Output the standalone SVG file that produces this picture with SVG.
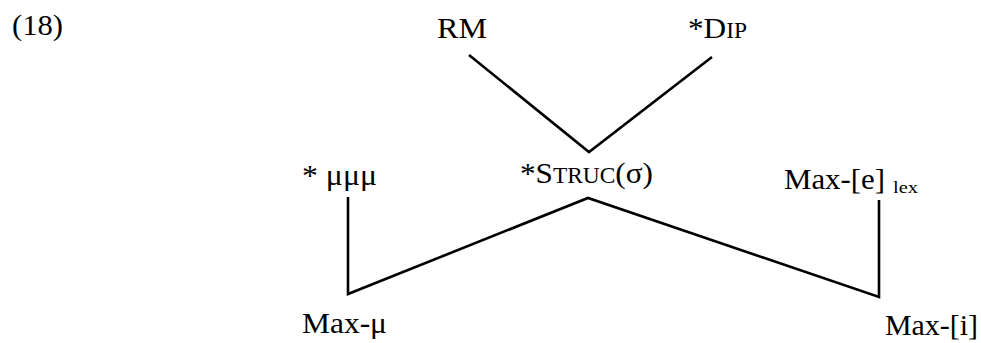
<svg xmlns="http://www.w3.org/2000/svg" width="981" height="343" viewBox="0 0 981 343">
<style>
text{font-family:"Liberation Serif","Times New Roman",serif;font-size:30px;fill:#000}
.sc{font-size:22.5px}
.sub{font-size:17px}
.ln{stroke:#000;stroke-width:2.6;fill:none;stroke-linejoin:miter}
</style>
<rect width="981" height="343" fill="#fff"/>
<text x="12" y="35" textLength="51" lengthAdjust="spacingAndGlyphs">(18)</text>
<g id="RM"><text x="437" y="38" textLength="50" lengthAdjust="spacingAndGlyphs">RM</text></g>
<g id="DIP"><text x="688" y="38" textLength="59" lengthAdjust="spacingAndGlyphs">*D<tspan class="sc">IP</tspan></text></g>
<g id="mmm"><text x="302" y="185" textLength="75" lengthAdjust="spacingAndGlyphs">* μμμ</text></g>
<g id="STRUC"><text x="520" y="183" textLength="133" lengthAdjust="spacingAndGlyphs">*S<tspan class="sc">TRUC</tspan>(σ)</text></g>
<g id="MaxE"><text x="784" y="189" textLength="101" lengthAdjust="spacingAndGlyphs">Max-[e]</text><text class="sub" x="893" y="193" textLength="25" lengthAdjust="spacingAndGlyphs">lex</text></g>
<g id="MaxMu"><text x="302" y="333" textLength="85" lengthAdjust="spacingAndGlyphs">Max-μ</text></g>
<g id="MaxI"><text x="885" y="335" textLength="93" lengthAdjust="spacingAndGlyphs">Max-[i]</text></g>
<g id="connectors">
<polyline class="ln" points="469,55 589,152 712,57"/>
<polyline class="ln" points="348,197 348,294 588,198 879,297 879,200"/>
</g>
</svg>
